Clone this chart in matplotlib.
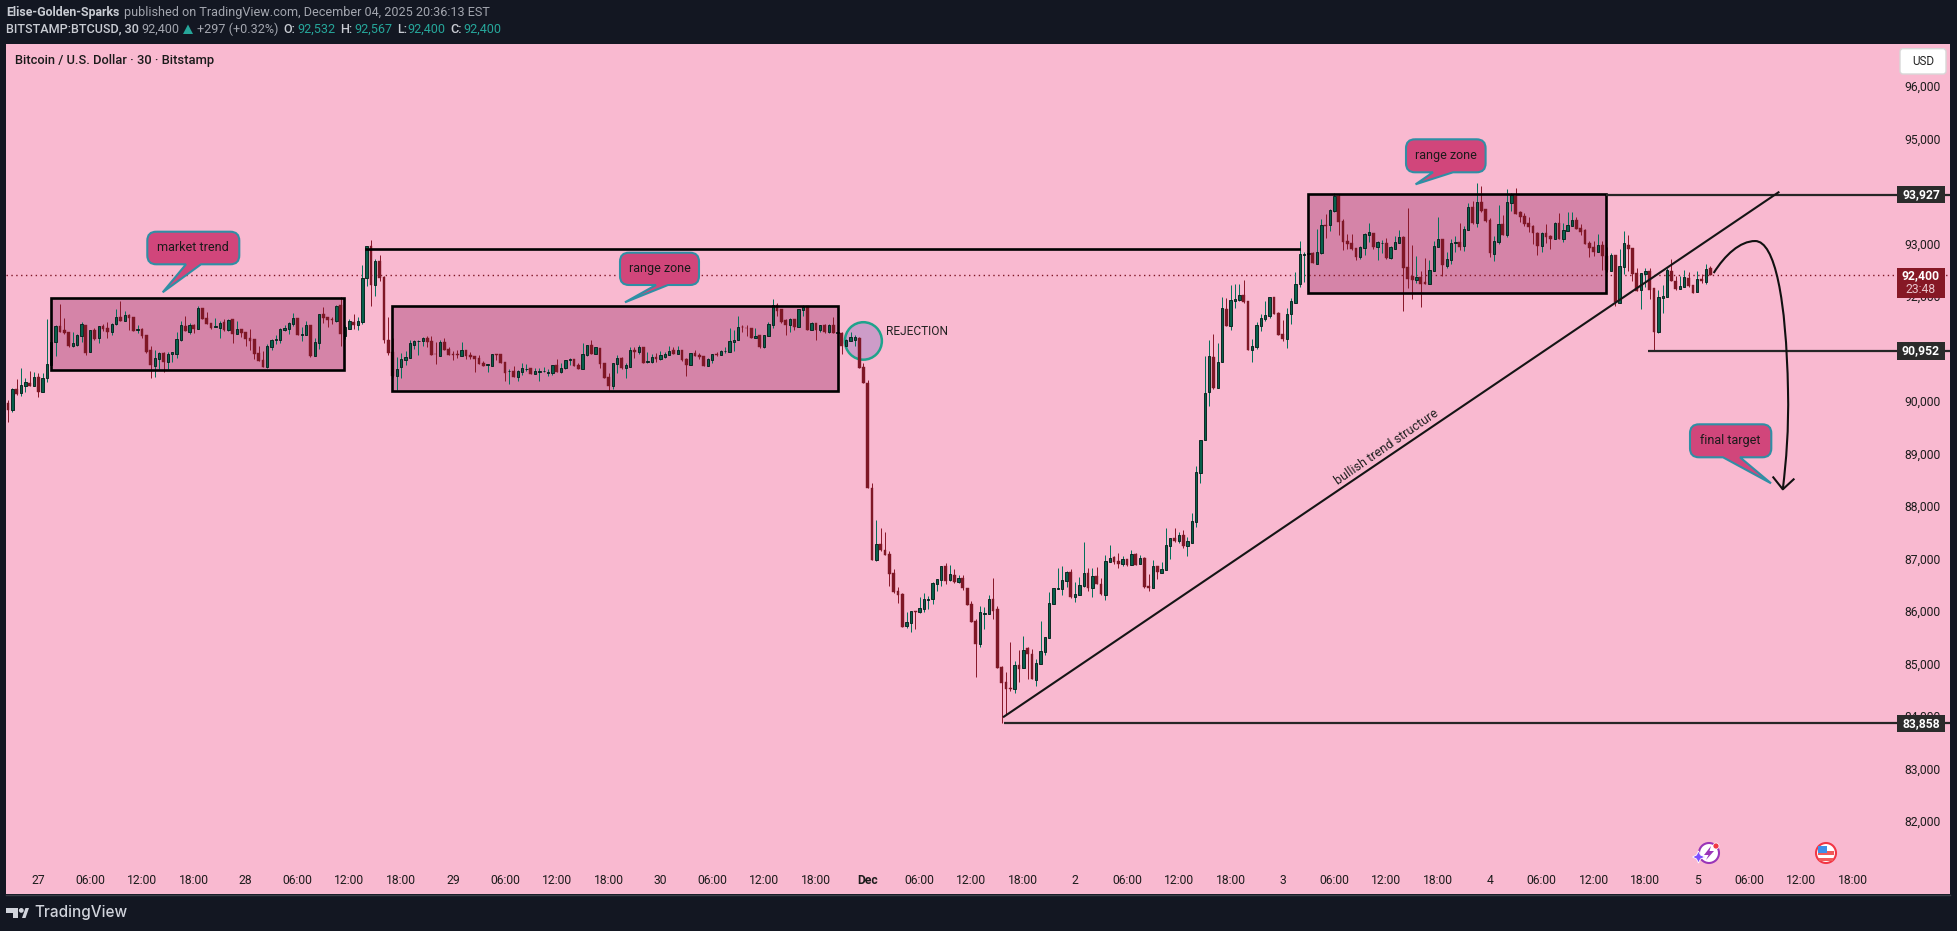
import matplotlib
matplotlib.use("Agg")
import matplotlib.pyplot as plt
from matplotlib.patches import Rectangle, Ellipse, PathPatch, Polygon, FancyBboxPatch, Circle
from matplotlib.path import Path
import numpy as np

plt.rcParams['font.family'] = ['Roboto', 'DejaVu Sans']

# 30 min candles
opens = [89964,89825,90225,90155,90288,90332,90288,90447,90174,90428,90682,91113,91418,91348,91310,91050,91069,91228,91444,90936,91348,91202,91418,91386,91317,91456,91590,91526,91634,91590,91355,91367,91247,90967,90669,90802,90910,90745,90885,90897,91164,91418,91317,91444,91367,91761,91570,91482,91412,91393,91501,91348,91551,91279,91367,91310,91196,
91177,90904,90777,90650,91031,91164,91164,91355,91374,91469,91577,91259,91259,91444,90859,91107,91653,91590,91558,91520,91824,91234,91374,91494,91450,91507,92332,92942,92212,92656,92364,91158,90929,90478,90650,90783,90821,91069,91139,91145,91202,91139,90891,90859,91120,90980,90885,90891,90859,90967,90872,90853,90815,90713,90682,90669,90885,
90892,90739,90561,90568,90460,90555,90606,90625,90517,90555,90561,90536,90536,90682,90549,90619,90784,90796,90688,90612,90879,91063,90898,91012,90720,90447,90282,90701,90815,90631,90644,90968,90923,91025,90745,90739,90834,90796,90834,90879,90974,90891,90974,90796,90682,90911,90872,90853,90663,90777,90898,90872,90942,90930,91126,91158,91406,91393,91387,91203,91247,91019,91241,91444,91825,91749,91539,91450,91558,91412,91736,91806,91349,91482,91349,91444,91310,91444,91298,91291,91050,91145,91165,91196,
90644,90339,88339,86968,87266,87158,87082,86720,86377,86320,85711,85774,85990,85977,86041,86212,86231,86517,86593,86847,86593,86682,86555,86625,86441,86130,85812,85374,85945,85945,86218,86034,84930,84638,84523,84517,84961,84917,85285,85177,84688,84993,85222,85488,86136,86422,86422,86574,86739,86269,86301,86472,86720,86441,86663,86510,86301,86936,87025,86942,86891,86980,86872,87082,86898,87006,86466,86441,86853,
86726,86783,87240,87386,87335,87443,87240,87297,
87698,88631,89247,90174,90834,90250,90733,91748,91431,91907,91926,92009,91901,90974,91031,91431,91564,91621,91977,91672,91272,91171,91660,91869,92231,92783,92796,92815,92612,92809,93348,93342,93621,93907,93425,93044,93000,92904,92739,92917,93164,93190,92936,93000,93000,92726,92898,93012,93126,92542,92371,92307,92352,92256,92225,92479,92936,93082,92574,
92682,93012,93025,92948,93260,93691,93393,93780,93647,93444,92802,93025,93361,93164,93774,93901,93590,93513,93380,93329,93196,92948,93190,93139,93082,93380,93082,93240,93336,93437,93285,93247,93006,92923,92840,92968,92764,92479,92771,91869,92555,92961,92910,92428,92110,92415,92466,92148,91304,91958,91977,92472,92282,92129,92167,92333,92206,92079,92320,92263,92532]
highs = [90015,90237,90415,90618,90428,90567,90542,90523,90523,91551,91209,91444,91843,91570,91310,91310,91266,91501,91444,91348,91393,91431,91456,91494,91488,91748,91901,91710,91653,91590,91444,91393,91247,91037,90967,90923,90929,90923,90923,91317,91513,91615,91488,91456,91805,91761,91685,91482,91570,91520,91551,91551,91551,91520,91367,91310,91361,
91177,91044,90948,91082,91183,91253,91386,91444,91507,91672,91577,91399,91520,91444,91202,91653,91786,91590,91596,91824,91983,91444,91558,91653,91596,92586,92955,93062,92701,92777,92377,91590,91196,90840,90910,90955,91158,91158,91158,91221,91234,91234,91126,91151,91196,91025,90955,90967,91120,90967,90929,90853,90866,90758,90694,90891,90885,
90892,90739,90599,90657,90580,90714,90695,90625,90619,90631,90638,90606,90682,90796,90714,90784,90815,90796,90726,91101,91063,91152,91012,91012,90720,90523,90720,90872,90828,90714,91025,91031,91057,91025,90930,90891,90911,90949,90923,91044,91025,91044,90974,90822,90917,90974,90911,90853,90809,90891,90936,90968,91031,91387,91349,91615,91444,91444,91387,91387,91247,91260,91507,91939,91863,91749,91552,91571,91558,91749,91825,91806,91507,91482,91444,91457,91457,91596,91349,91304,91171,91304,91247,91209,
90720,90396,88428,87729,87577,87501,87139,86796,86453,86333,85977,85996,85996,86263,86333,86282,86549,86612,86853,86904,86872,86796,86682,86676,86441,86180,85837,86091,86072,86295,86625,86091,84949,84828,85406,85038,85253,85520,85304,85272,85076,85806,85507,86364,86441,86815,86853,86764,86802,86549,86644,87310,86815,86815,86834,86625,87063,87253,87044,87095,87037,86993,87152,87095,87063,87031,86701,86968,86853,
86929,87577,87386,87577,87494,87532,87405,87862,
88758,89247,90853,91158,91272,91095,91983,91958,92206,92225,92225,92301,91901,91177,91494,91647,91901,91977,91977,91685,91539,91761,91952,92460,93050,92828,93063,92834,93266,93456,93558,93647,93952,93933,93463,93171,93171,92904,92942,93202,93387,93190,93044,93063,93094,92955,93139,93253,93139,93672,92968,92758,92472,92714,92682,93044,93501,93082,92834,
93075,93139,93380,93329,93761,93799,94142,94091,93647,93475,93139,93729,93533,94034,93964,94047,93621,93571,93501,93348,93221,93221,93367,93158,93406,93583,93380,93596,93590,93507,93361,93266,93050,93044,93177,93050,92923,92809,92777,92891,93234,93158,92910,92523,92440,92529,92523,92148,92110,92199,92536,92701,92377,92377,92491,92453,92206,92472,92415,92605,92567]
lows = [89596,89793,90110,90097,90174,90288,90288,90078,90174,90364,90682,90853,91317,91272,91031,91031,91050,91126,90872,90936,91158,91107,91336,91202,91247,91444,91520,91526,91348,91336,91285,91190,90910,90440,90459,90599,90555,90612,90745,90821,91145,91329,91279,91297,91361,91551,91463,91361,91399,91202,91336,91336,91101,91266,91209,91044,90967,
90796,90758,90644,90631,90967,91075,91101,91329,91272,91424,91253,91139,91253,90834,90853,90986,91482,91405,91463,91501,91044,91177,91367,91367,91348,91463,92186,91805,91996,92282,91101,90878,90447,90205,90434,90682,90815,90980,90872,91044,91025,90872,90701,90853,90967,90872,90777,90809,90853,90796,90796,90548,90701,90663,90548,90663,90777,
90714,90377,90327,90460,90377,90492,90561,90511,90511,90377,90555,90472,90492,90542,90536,90612,90682,90663,90606,90612,90860,90891,90891,90631,90434,90199,90225,90523,90612,90441,90644,90815,90898,90720,90726,90714,90745,90784,90822,90872,90891,90891,90758,90472,90682,90853,90803,90663,90663,90720,90853,90866,90911,90930,90949,91158,91310,91228,91190,91196,91006,91012,91234,91393,91615,91482,91253,91310,91349,91406,91615,91349,91342,91158,91304,91298,91298,91298,91222,90898,91044,91133,91044,90625,
90339,88345,86974,86955,87145,87069,86472,86333,86149,85692,85679,85596,85653,85965,85977,86034,86130,86377,86472,86510,86574,86536,86536,86396,86111,85787,84739,85317,85653,85939,85844,84917,83858,84034,84479,84441,84644,84911,84701,84701,84574,84987,85158,85488,86130,86415,86301,86453,86237,86168,86295,86460,86384,86269,86504,86301,86206,86930,86891,86815,86853,86853,86872,86872,86891,86441,86377,86434,86606,
86720,86777,86986,87304,87291,87196,87050,87291,
87603,88428,89247,89901,90218,90250,90733,91431,91348,91774,91907,91869,90967,90745,90987,91336,91526,91583,91647,91253,91145,91012,91469,91856,92161,92269,92587,92625,92612,92802,93094,93240,93602,93158,92872,92891,92872,92682,92707,92777,93031,92885,92682,92809,92707,92701,92891,93000,91717,92155,91939,92250,91793,92225,92218,92472,92923,92377,92536,
92606,92840,92872,92853,93253,93367,93317,93602,93412,92739,92669,92987,93158,93126,93621,93564,93412,93336,93215,92987,92777,92840,93006,92891,93082,93075,93025,93234,93329,93266,93158,92987,92739,92764,92834,92491,92460,92472,91812,91863,92415,92472,92282,92091,91748,92174,91939,90952,91298,91672,91971,92275,92117,92129,92161,92174,92053,92072,92250,92225,92400]
closes = [89825,90218,90129,90294,90352,90288,90447,90174,90428,90694,91113,91418,91317,91297,91044,91094,91247,91456,90904,91342,91177,91418,91361,91310,91456,91590,91526,91634,91583,91336,91361,91234,90936,90688,90809,90910,90745,90885,90923,91171,91437,91329,91437,91367,91761,91564,91469,91386,91418,91488,91348,91532,91279,91361,91285,91177,91139,
90891,90764,90644,91037,91151,91171,91361,91386,91475,91570,91253,91266,91437,90853,91113,91647,91577,91539,91545,91799,91279,91399,91513,91444,91513,92332,92942,92205,92656,92345,91158,90904,90472,90599,90790,90834,91094,91132,91145,91196,91120,90872,90885,91113,90967,90878,90878,90878,90961,90853,90834,90802,90701,90663,90694,90885,90878,
90726,90536,90568,90460,90561,90619,90612,90517,90561,90561,90568,90542,90676,90549,90625,90771,90790,90669,90612,90891,91057,90891,91019,90707,90434,90282,90720,90815,90631,90682,90968,90930,91025,90720,90752,90828,90796,90872,90891,90949,90891,90968,90777,90682,90904,90853,90834,90663,90796,90885,90879,90949,90949,91139,91158,91406,91399,91380,91196,91234,91019,91253,91463,91818,91711,91501,91444,91558,91412,91742,91793,91349,91482,91349,91437,91310,91444,91298,91304,91050,91158,91209,91209,90631,
90339,88345,86974,87266,87158,87069,86707,86365,86301,85698,85780,85990,85984,86047,86218,86218,86530,86599,86847,86574,86695,86549,86618,86434,86111,85787,85368,85971,85952,86218,86003,84917,84631,84517,84511,84961,84892,85247,85184,84701,84999,85228,85495,86142,86428,86428,86587,86739,86263,86314,86492,86714,86441,86657,86517,86320,86942,86999,86936,86898,86980,86872,87076,86879,86999,86460,86434,86847,86745,
86796,87247,87380,87335,87437,87240,87323,87704,
88644,89247,90142,90847,90237,90733,91761,91431,91920,91933,92009,91882,90967,91037,91437,91571,91628,91971,91653,91253,91177,91647,91895,92218,92790,92790,92809,92631,92828,93342,93329,93628,93907,93412,93031,92993,92891,92739,92923,93171,93209,92936,93018,93006,92720,92923,93018,93113,92536,92326,92307,92358,92225,92225,92485,92942,93075,92587,92694,
93000,93018,92923,93266,93685,93380,93780,93621,93425,92815,93037,93361,93158,93780,93920,93564,93501,93361,93304,93202,92955,93190,93120,93082,93387,93082,93247,93342,93437,93272,93209,92987,92910,92834,92961,92758,92485,92771,91875,92561,93000,92898,92415,92098,92428,92466,92110,91310,91977,91990,92491,92282,92129,92180,92358,92180,92053,92314,92275,92510,92400]

# time axis, one label every 12 bars starting at bar 7
time_labels = ['27','06:00','12:00','18:00','28','06:00','12:00','18:00','29','06:00','12:00','18:00',
               '30','06:00','12:00','18:00','Dec','06:00','12:00','18:00','2','06:00','12:00','18:00',
               '3','06:00','12:00','18:00','4','06:00','12:00','18:00','5','06:00','12:00','18:00']
price_ticks = [82000,83000,84000,85000,86000,87000,88000,89000,90000,91000,92000,93000,94000,95000,96000]

last_price = 92400
level_prices = [93927, 90952, 83858]

# drawings as (bar, price)
zones_bar = [(9.9, 77.8), (88.8, 192.0), (300.9, 369.9)]
zones_price = [(90592, 91964), (90192, 91806), (92059, 93939)]
top_line_bar = [82.9, 298.9]
top_line_price = 92891
level_start_bar = [369.9, 379.5, 230.5]
trend_bar = [230.5, 409.8]
trend_price = [83983, 93971]
curve_bar = [394.8, 397.4, 400.9, 404.4, 409.0, 411.6, 412.0, 412.2, 411.6, 410.8]
curve_price = [92434, 92777, 93043, 93043, 93043, 91920, 90205, 89443, 88872, 88314]
arrow_bar = [408.6, 410.8, 413.3]
arrow_price = [88542, 88314, 88504]

PINK = '#f9b9d0'
DARK = '#131722'
ZONE = '#d584a8'
GREEN = '#07604c'
WICK_G = '#04705a'
RED = '#7f1726'
WICK_R = '#8a1a2c'

W, H = 1957, 931
fig = plt.figure(figsize=(W / 100, H / 100), dpi=100, facecolor=DARK)
ax = fig.add_axes([6 / W, 1 - 894 / H, (1950 - 6) / W, (894 - 44) / H])
ax.set_facecolor(PINK)
for s in ax.spines.values():
    s.set_visible(False)
ax.set_xlim(-0.477, 449.5)
ax.set_ylim(93000 - (894 - 243.3) / 0.0525, 93000 - (44 - 243.3) / 0.0525)

o = np.array(opens, float)
h = np.array(highs, float)
l = np.array(lows, float)
c = np.array(closes, float)
x = np.arange(len(c))
up = c >= o

for (b0, b1), (p0, p1) in zip(zones_bar, zones_price):
    ax.add_patch(Rectangle((b0, p0), b1 - b0, p1 - p0, fc=ZONE, ec='none', zorder=1))
ax.axhline(last_price, color=RED, lw=1, ls=(0, (1, 2.5)), zorder=1.5)

# circle sits under the candles, its fill is see-through in the original
ax.add_patch(Ellipse((197.98, 91140), 8.56, 714, fc='#cd9cc8', ec='none', zorder=1.2))
ax.add_patch(Ellipse((197.98, 91140), 8.56, 714, fc='none', ec='#1fa38c', lw=1.8, zorder=1.3))

ax.vlines(x[up], l[up], h[up], color=WICK_G, lw=0.72, zorder=2)
ax.vlines(x[~up], l[~up], h[~up], color=WICK_R, lw=0.72, zorder=2)
ax.bar(x[up], c[up] - o[up], bottom=o[up], width=0.55, color=GREEN, edgecolor='#06221c', lw=0.65, zorder=3)
ax.bar(x[~up], c[~up] - o[~up], bottom=o[~up], width=0.64, color=RED, edgecolor=RED, lw=0.3, zorder=3)

for (b0, b1), (p0, p1) in zip(zones_bar, zones_price):
    ax.add_patch(Rectangle((b0, p0), b1 - b0, p1 - p0, fc='none', ec='black', lw=1.9, zorder=4))
ax.plot(top_line_bar, [top_line_price] * 2, color='black', lw=1.9, zorder=4)
for b, p in zip(level_start_bar, level_prices):
    ax.plot([b, 449.5], [p, p], color='#262626', lw=1.6, zorder=4, solid_capstyle='butt')
ax.plot(trend_bar, trend_price, color='#151515', lw=1.5, zorder=4)

curve_codes = [Path.MOVETO] + [Path.CURVE4] * 9
ax.add_patch(PathPatch(Path(list(zip(curve_bar, curve_price)), curve_codes), fc='none', ec='#111111', lw=1.5, zorder=4))
ax.plot(arrow_bar, arrow_price, color='#111111', lw=1.5, zorder=4)

ax.text(319, 89120, 'bullish trend structure', rotation=34.7, rotation_mode='anchor',
        ha='center', va='center', fontsize=9, color='#222222', zorder=5)
ax.text(203.2, 91316, 'REJECTION', ha='left', va='center', fontsize=8.6, color='#222222', zorder=5)

ax.set_xticks(7 + 12 * np.arange(len(time_labels)))
ax.set_xticklabels(time_labels)
ax.set_yticks(price_ticks)
ax.set_yticklabels([f'{p:,}' for p in price_ticks])
ax.yaxis.tick_right()
ax.tick_params(axis='x', length=0, pad=-14.6, labelsize=8.7, labelcolor='#1c1c1c')
ax.tick_params(axis='y', length=0, pad=-6.5, labelsize=8.7, labelcolor='#1c1c1c')
for t in ax.get_yticklabels():
    t.set_ha('right')
for t in ax.get_xticklabels():
    if t.get_text() == 'Dec':
        t.set_fontweight('bold')

# chrome, callouts and labels in pixels over the whole figure
top = fig.add_axes([0, 0, 1, 1], facecolor='none')
top.set_xlim(0, W)
top.set_ylim(H, 0)
top.axis('off')

top.plot([6, 1950], [894.5, 894.5], color='#3a3d46', lw=1)


def callout(x0, y0, x1, y1, base_a, base_b, tip, label):
    r = 9
    verts = [(x0 + r, y0), (x1 - r, y0), (x1, y0), (x1, y0 + r), (x1, y1 - r), (x1, y1), (x1 - r, y1),
             (base_b, y1), tip, (base_a, y1), (x0 + r, y1), (x0, y1), (x0, y1 - r), (x0, y0 + r), (x0, y0), (x0 + r, y0)]
    codes = [Path.MOVETO, Path.LINETO, Path.CURVE3, Path.CURVE3, Path.LINETO, Path.CURVE3, Path.CURVE3,
             Path.LINETO, Path.LINETO, Path.LINETO, Path.LINETO, Path.CURVE3, Path.CURVE3, Path.LINETO, Path.CURVE3, Path.CURVE3]
    top.add_patch(PathPatch(Path(verts, codes), fc='#d1467b', ec='#2f8fa5', lw=1.5, zorder=6))
    top.text((x0 + x1) / 2, (y0 + y1) / 2 - 0.5, label, ha='center', va='center', fontsize=9, color='#1a1a1a', zorder=7)


callout(147.3, 231.7, 239.3, 264.3, 186, 201, (162.7, 292.3), 'market trend')
callout(620, 252.7, 699, 285, 656, 668, (625, 302.3), 'range zone')
callout(1406, 139.3, 1485.6, 172.3, 1433, 1453, (1415.6, 184.3), 'range zone')
callout(1690, 424.3, 1771.3, 457.3, 1723, 1740, (1771, 483.3), 'final target')

# price scale boxes
def price_y(p):
    return 243.3 + (93000 - p) * 0.0525


for p in level_prices:
    yc = price_y(p)
    top.add_patch(Rectangle((1897, yc - 8.7), 48, 17.4, fc='#2b2b2b', ec='none', zorder=6))
    top.text(1921, yc, f'{p:,}', ha='center', va='center', fontsize=8.7, fontweight='bold', color='white', zorder=7)
top.add_patch(Rectangle((1897, 268), 48, 30.3, fc='#861825', ec='none', zorder=6))
top.text(1921, 275.8, f'{last_price:,}', ha='center', va='center', fontsize=8.7, fontweight='bold', color='white', zorder=7)
top.text(1921, 289.8, '23:48', ha='center', va='center', fontsize=8.7, color='#e8c4cb', zorder=7)

top.add_patch(FancyBboxPatch((1900, 48.7), 46, 25.3, boxstyle='round,pad=0,rounding_size=3', fc='white', ec='#d8d8d8', lw=1, zorder=6))
top.text(1923, 61.3, 'USD', ha='center', va='center', fontsize=8.4, color='#222222', zorder=7)

top.text(15.3, 60.5, 'Bitcoin / U.S. Dollar · 30 · Bitstamp', ha='left', va='center', fontsize=9.3, fontweight='medium', color='#1a1a1a')

# header
LIGHT = '#c9ccd3'
GRAY = '#a3a6af'
TEAL = '#26a69a'
top.text(6.5, 12.5, 'Elise-Golden-Sparks', fontsize=8.9, fontweight='bold', color=LIGHT, va='center')
top.text(124.4, 12.5, 'published on TradingView.com, December 04, 2025 20:36:13 EST', fontsize=9.1, color=GRAY, va='center')
top.text(6.5, 29.3, 'BITSTAMP:BTCUSD, 30', fontsize=9.1, fontweight='medium', color=LIGHT, va='center')
top.text(141.6, 29.3, '92,400', fontsize=9.1, color=GRAY, va='center')
top.add_patch(Polygon([(183, 34), (193, 34), (188, 24.5)], fc=TEAL, ec='none'))
top.text(197, 29.3, '+297 (+0.32%)', fontsize=9.1, color=GRAY, va='center')
for xl, lab, xv, val in [(283, 'O:', 297, '92,532'), (340, 'H:', 354, '92,567'), (397, 'L:', 407, '92,400'), (450, 'C:', 463.5, '92,400')]:
    top.text(xl, 29.3, lab, fontsize=9.1, fontweight='medium', color=LIGHT, va='center')
    top.text(xv, 29.3, val, fontsize=9.1, color=TEAL, va='center')

# footer logo
LOGO = '#d1d4dc'
top.add_patch(Polygon([(6, 908), (18, 908), (18, 918), (12.5, 918), (12.5, 913), (6, 913)], fc=LOGO, ec='none'))
top.add_patch(Circle((21.3, 910.4), 2.4, fc=LOGO, ec='none'))
top.add_patch(Polygon([(22, 918), (25.5, 908), (29, 908), (25.5, 918)], fc=LOGO, ec='none'))
top.text(34, 912.5, 'TradingView', fontsize=11, family='Inter', fontweight='medium', color=LOGO, va='center')

# event icons on the time axis
top.add_patch(Circle((1709, 853), 10, fc='white', ec='#9a35b8', lw=1.5, zorder=6))
top.add_patch(Polygon([(1711, 846), (1704, 855), (1708.5, 855), (1706, 860), (1714, 851), (1709.5, 851)], fc='#9a35b8', ec='none', zorder=7))
top.add_patch(Polygon([(1698.5, 851), (1700.5, 855), (1705, 857), (1700.5, 859), (1698.5, 863), (1696.5, 859), (1692.5, 857), (1696.5, 855)], fc='#7c4dff', ec='white', lw=0.6, zorder=7))
top.add_patch(Circle((1716, 846), 3, fc='#f23645', ec='white', lw=0.5, zorder=7))
top.add_patch(Circle((1826, 853), 10, fc='white', ec='#f23645', lw=1.5, zorder=6))
top.add_patch(Rectangle((1818, 851), 16, 3.5, fc='#f05a5a', ec='none', zorder=7))
top.add_patch(Rectangle((1819, 858), 14, 2.5, fc='#f05a5a', ec='none', zorder=7))
top.add_patch(Rectangle((1818, 846), 8.5, 7, fc='#3d8fe8', ec='none', zorder=8))

fig.savefig('out.png', dpi=100, facecolor=DARK)
